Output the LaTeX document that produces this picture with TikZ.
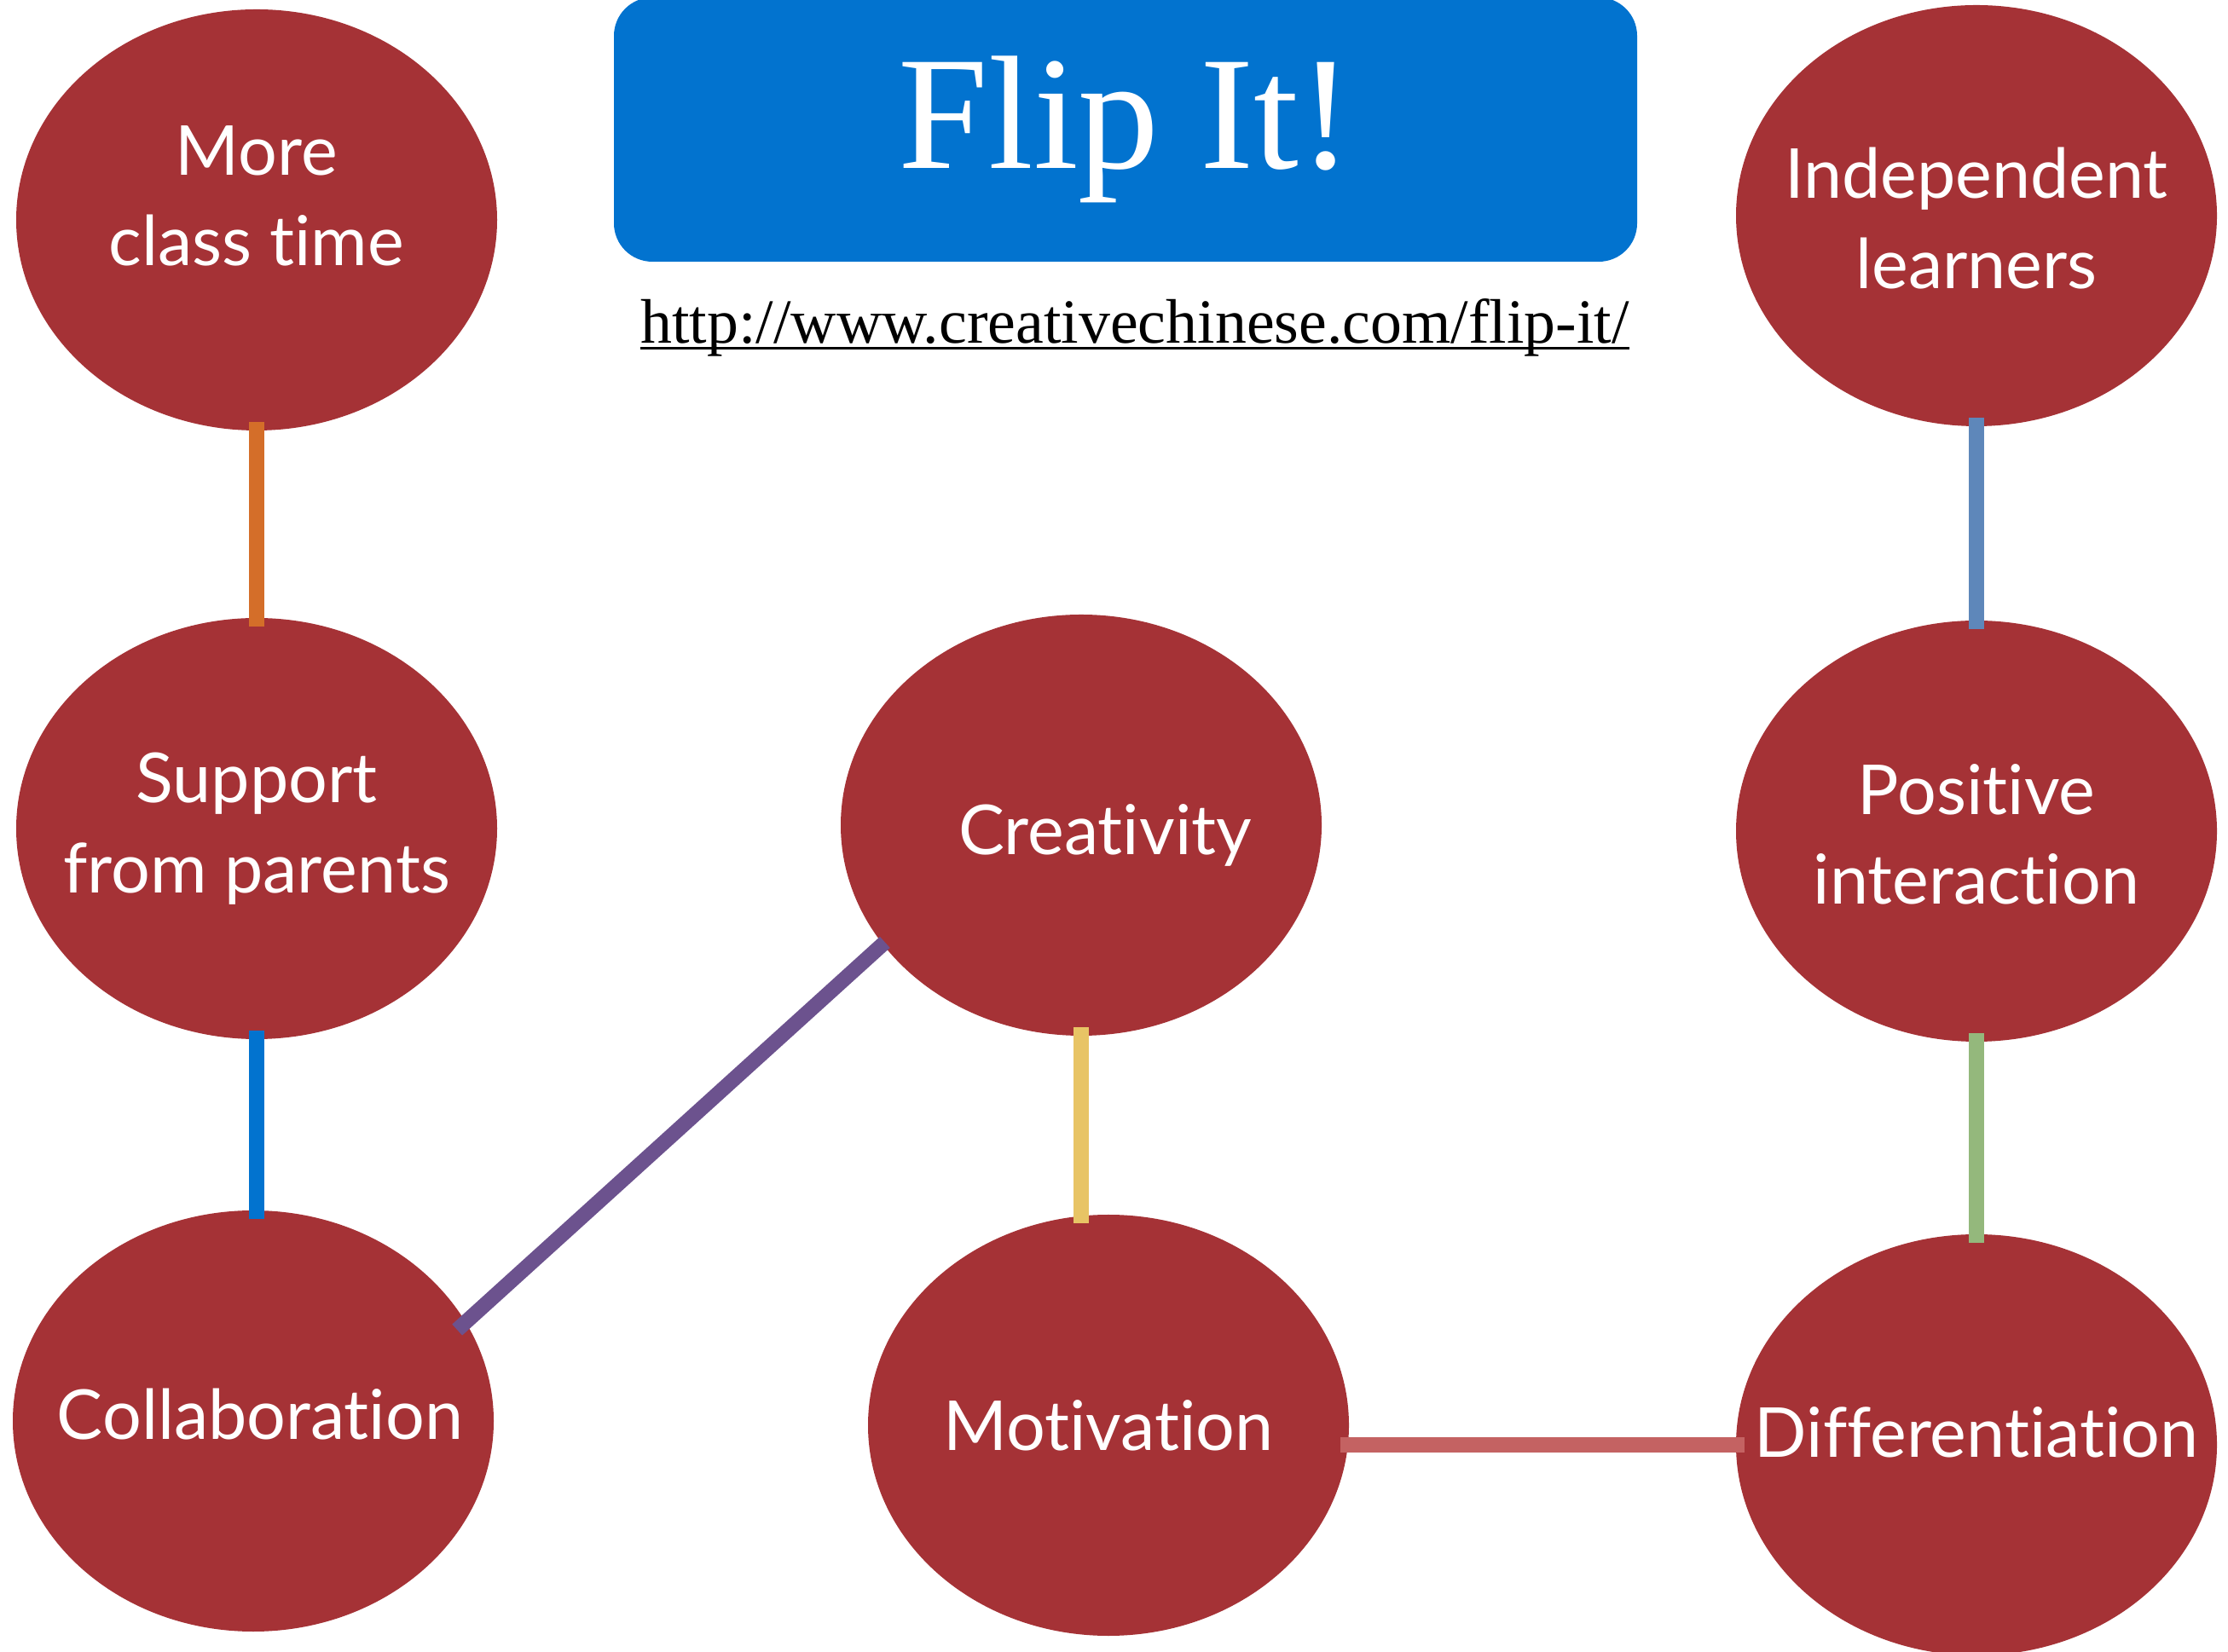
\documentclass[tikz,border=0pt]{standalone}
\usepackage{fontspec}
\setmainfont{Liberation Serif}
\newfontfamily\bubblefont[Ligatures=NoCommon]{Lato}
\usetikzlibrary{shapes.geometric}
\definecolor{BubbleRed}{RGB}{165, 50, 54}
\definecolor{TitleBlue}{RGB}{2, 115, 207}
\definecolor{LinkOrange}{RGB}{212, 110, 41}
\definecolor{LinkPurple}{RGB}{108, 82, 142}
\definecolor{LinkYellow}{RGB}{232, 196, 101}
\definecolor{LinkGreen}{RGB}{148, 184, 124}
\definecolor{LinkSteel}{RGB}{94, 135, 186}
\definecolor{LinkRose}{RGB}{196, 98, 98}

\begin{document}
\begin{tikzpicture}[
    bubble/.style={ellipse, fill=BubbleRed, minimum width=5.64cm, minimum height=4.94cm, inner sep=0pt},
    bubbletext/.style={text=white, align=center, inner sep=0pt, font=\bubblefont\fontsize{23}{30}\selectfont},
    link/.style={line width=5.2pt, shorten <=-3pt, shorten >=-3pt}
  ]
    \useasboundingbox (0,0) rectangle (26.13,19.37);

    % Title banner with the link underneath
    \node[rectangle, rounded corners=0.45cm, fill=TitleBlue, text=white, minimum width=12cm,
          minimum height=3.1cm, inner sep=0pt, font=\fontsize{54}{60}\selectfont] (title) at (13.20,17.85) {Flip It!};
    \node[anchor=base, inner sep=0pt, font=\fontsize{21}{24}\selectfont] (url) at (13.31,15.34)
        {http://www.creativechinese.com/flip-it/};
    \draw[line width=0.9pt] ([yshift=-1.5pt]url.base west) -- ([yshift=-1.5pt]url.base east);

    % Left column
    \node[bubble, label={[bubbletext, yshift=0.28cm]center:More\\class time}] (moretime) at (3.01,16.79) {};
    \node[bubble, label={[bubbletext]center:Support\\from parents}] (support) at (3.01,9.65) {};
    \node[bubble, label={[bubbletext, xshift=0.08cm, yshift=0.08cm]center:Collaboration}] (collab) at (2.97,2.70) {};

    % Middle column
    \node[bubble, label={[bubbletext, xshift=0.28cm, yshift=-0.12cm]center:Creativity}] (creat) at (12.68,9.69) {};
    \node[bubble, label={[bubbletext]center:Motivation}] (motiv) at (13.00,2.65) {};

    % Right column
    \node[bubble, label={[bubbletext, yshift=-0.03cm]center:Independent\\learners}] (indep) at (23.18,16.84) {};
    \node[bubble, label={[bubbletext, yshift=-0.04cm]center:Positive\\interaction}] (posit) at (23.18,9.62) {};
    \node[bubble, label={[bubbletext, yshift=0.15cm]center:Differentiation}] (diff) at (23.18,2.42) {};

    % Links between bubbles
    \draw[link, LinkOrange] (moretime.south) -- (support.north);
    \draw[link, TitleBlue] (support.south) -- (support.south |- collab.north);
    \draw[link, LinkPurple, line width=5pt, shorten <=-0.14cm, shorten >=-0.04cm] (collab.25) -- (creat.211);
    \draw[link, LinkYellow] (creat.south) -- (creat.south |- motiv.north);
    \draw[link, LinkRose] (motiv.east |- diff.west) -- (diff.west);
    \draw[link, LinkSteel] (indep.south) -- (posit.north);
    \draw[link, LinkGreen] (posit.south) -- (diff.north);
\end{tikzpicture}
\end{document}
